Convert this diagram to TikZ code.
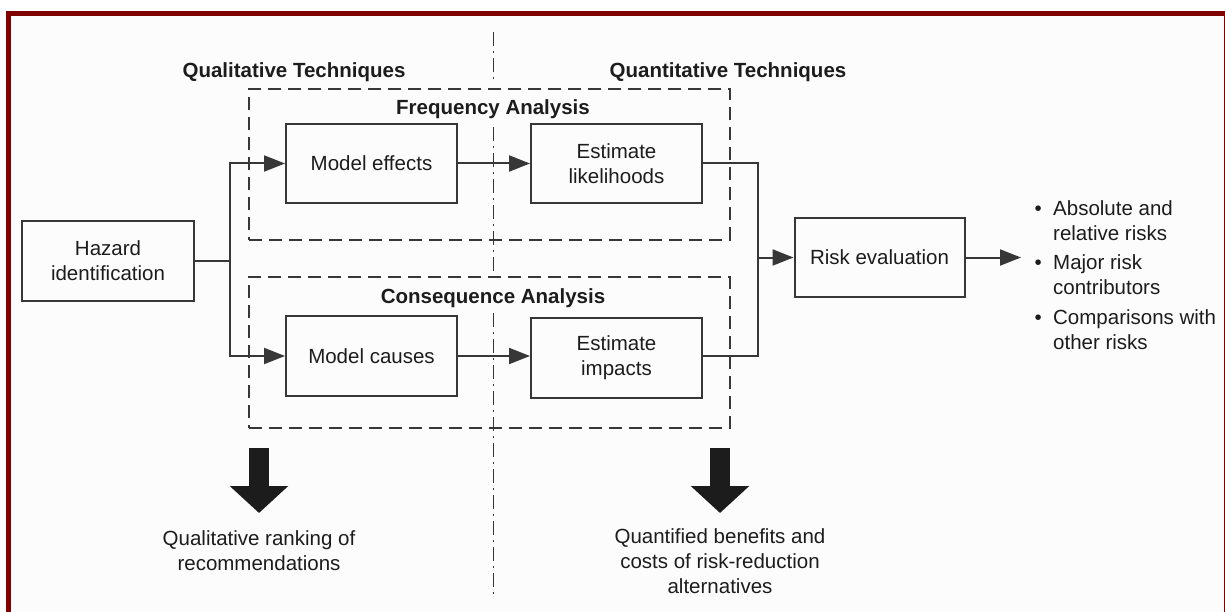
\documentclass[tikz,border=0pt]{standalone}
\usepackage{fontspec}
\setmainfont{Liberation Sans}
\usetikzlibrary{arrows.meta}
\definecolor{framered}{RGB}{128,0,0}
\definecolor{ink}{RGB}{28,28,28}
\definecolor{linegray}{RGB}{55,55,55}
\definecolor{bgcol}{RGB}{252,252,252}
\newcommand{\bodyfont}{\fontsize{20.5pt}{25pt}\selectfont}
\begin{document}
\begin{tikzpicture}[x=1pt,y=-1pt,
  box/.style={draw=linegray, line width=2pt, align=center, font=\bodyfont, text=ink, inner sep=0pt},
  dbox/.style={draw=linegray, line width=2pt, dash pattern=on 13pt off 7pt, inner sep=0pt},
  head/.style={font=\bodyfont\bfseries, text=ink, inner sep=0pt},
  plain/.style={font=\bodyfont, text=ink, align=center, inner sep=0pt},
  conn/.style={draw=linegray, line width=2pt},
  arr/.style={conn, -{Triangle[length=21pt,width=16pt]}},
  sep/.style={draw=linegray, line width=1.6pt, dash pattern=on 14pt off 5pt on 2pt off 5pt},
  bigarr/.style={draw=ink, line width=20pt, -{Triangle[length=27pt,width=57pt]}}
]
\useasboundingbox (0,0) rectangle (1225,612);
% background and frame
\fill[white] (0,0) rectangle (1225,612);
\fill[bgcol] (8,14) rectangle (1225,612);
\draw[framered, line width=5pt] (8.5,625) -- (8.5,13.5) -- (1226.5,13.5) -- (1226.5,625);

% separator (dash-dot)
\draw[sep] (493.5,32) -- (493.5,83);
\draw[sep] (493.5,127) -- (493.5,273);
\draw[sep] (493.5,313) -- (493.5,598);

% headings
\node[head] (qual) at (294,72) {Qualitative Techniques};
\node[head] (quant) at (728,72) {Quantitative Techniques};

% dashed groups
\node[dbox, minimum width=480.5pt, minimum height=151pt] (freq) at (489.25,164.5) {};
\node[dbox, minimum width=480.5pt, minimum height=151pt] (cons) at (489.25,352.5) {};
\node[head] (freqlab) at (493,109) {Frequency Analysis};
\node[head] (conslab) at (493,298) {Consequence Analysis};

% boxes
\node[box, minimum width=172pt, minimum height=80pt] (haz) at (108,261) {Hazard\\identification};
\node[box, minimum width=171pt, minimum height=79pt] (me) at (371.5,163.5) {Model effects};
\node[box, minimum width=171pt, minimum height=79pt] (el) at (616.5,163.5) {Estimate\\likelihoods};
\node[box, minimum width=171pt, minimum height=80pt] (mc) at (371.5,356) {Model causes};
\node[box, minimum width=171pt, minimum height=80pt] (ei) at (616.5,357.5) {Estimate\\impacts};
\node[box, minimum width=170pt, minimum height=79pt] (risk) at (879.5,257.5) {Risk evaluation};

% outcome list
\node[plain, anchor=north west, align=left] (list) at (1034.5,197.5)
 {\begin{tabular}{@{}l@{\hspace{11.3pt}}l@{}}
  \textbullet & Absolute and\\
              & relative risks\\[4.5pt]
  \textbullet & Major risk\\
              & contributors\\[4.5pt]
  \textbullet & Comparisons with\\
              & other risks
  \end{tabular}};

% connectors
\coordinate (j1) at (230,261);
\draw[conn] (haz.east) -- (j1);
\draw[arr] (j1) |- (me.west);
\draw[arr] (j1) |- (mc.west);
\draw[arr] (me.east) -- (el.west);
\draw[arr] (mc.east) -- (ei.west |- mc.east);
\coordinate (j2) at (757.5,257.5);
\draw[conn] (el.east) -| (j2);
\draw[conn] (ei.east |- mc.east) -| (j2);
\draw[arr] (j2) -- (risk.west);
\coordinate (listin) at (1021,257.5);
\draw[arr] (risk.east) -- (listin);

% big arrows and outcome texts
\coordinate (ba1s) at (259,448);
\coordinate (ba1e) at (259,513);
\coordinate (ba2s) at (720,448);
\coordinate (ba2e) at (720,513);
\draw[bigarr] (ba1s) -- (ba1e);
\draw[bigarr] (ba2s) -- (ba2e);
\node[plain] (qrank) at (259,551) {Qualitative ranking of\\recommendations};
\node[plain] (qben) at (720,561) {Quantified benefits and\\costs of risk-reduction\\alternatives};
\end{tikzpicture}
\end{document}
